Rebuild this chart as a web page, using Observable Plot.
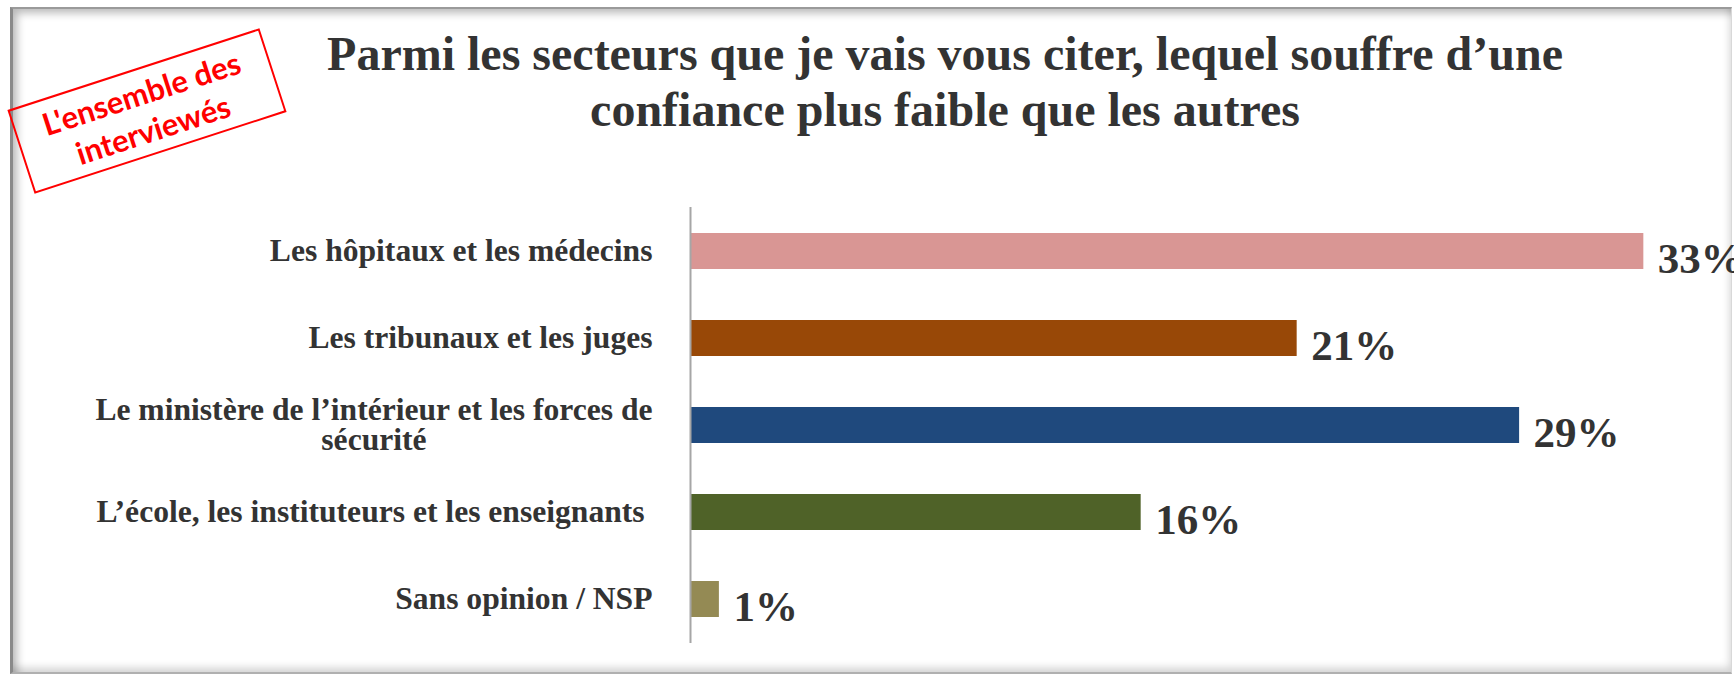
<!DOCTYPE html>
<html>
<head>
<meta charset="utf-8">
<script src="https://cdn.jsdelivr.net/npm/d3@7"></script>
<script src="https://cdn.jsdelivr.net/npm/@observablehq/plot@0.6"></script>
<style>
  html, body { margin: 0; padding: 0; background: #fff; }
  #page { position: relative; width: 1734px; height: 680px; overflow: hidden; background: #fff; }
  #frame {
    position: absolute; left: 10px; top: 7px; width: 1722px; height: 667px; box-sizing: border-box;
    border-top: 2px solid #9a9a9a; border-left: 3px solid #8a8a8a; border-bottom: 2px solid #b0b0b0; border-right: 1px solid #d8d8d8;
    box-shadow: inset 7px 7px 9px -3px rgba(0,0,0,0.28), inset -4px -7px 9px -3px rgba(0,0,0,0.18);
  }
  #title {
    position: absolute; left: 945px; top: 26px; transform: translateX(-50%);
    font-family: "Liberation Serif", "Times New Roman", serif; font-weight: bold; font-size: 48px;
    line-height: 56px; color: #333; text-align: center; white-space: nowrap;
  }
  #stamp {
    position: absolute; left: 147px; top: 111px; width: 265px; height: 88px; box-sizing: border-box;
    transform: translate(-50%, -50%) rotate(-18deg);
    border: 2px solid #ff0000; color: #ff0000;
    font-family: Lato, "Open Sans", sans-serif; font-weight: bold; font-size: 31px; line-height: 38px;
    display: flex; align-items: center; justify-content: center; text-align: center;
  }
  #chart { position: absolute; left: 0; top: 150px; }
</style>
</head>
<body>
<div id="page">
  <div id="frame"></div>
  <div id="title">Parmi les secteurs que je vais vous citer, lequel souffre d’une<br>confiance plus faible que les autres</div>
  <div id="stamp"><div>L'ensemble des<br>interviewés</div></div>
  <div id="chart"></div>
</div>
<script>
const categories = [
  "Les hôpitaux et les médecins",
  "Les tribunaux et les juges",
  "Le ministère de l’intérieur et les forces de\nsécurité",
  "L’école, les instituteurs et les enseignants\u00a0",
  "Sans opinion / NSP"
];
// bar lengths (percent)
const shares = [33, 21, 28.7, 15.6, 1];
// percentages printed next to the bars
const labels = [33, 21, 29, 16, 1];
const colors = ["#D99694", "#984807", "#1F497D", "#4F6228", "#948A54"];

const data = categories.map((c, i) => ({cat: c, value: shares[i], label: labels[i]}));

const textColor = "#333333";
const plot = Plot.plot({
  width: 1734,
  height: 530,
  marginLeft: 690,
  marginRight: 4,
  marginTop: 57,
  marginBottom: 37,
  style: {fontFamily: "'Liberation Serif', 'Times New Roman', serif", background: "transparent", color: textColor},
  x: {domain: [0, 36], axis: null},
  y: {domain: categories, axis: null, paddingInner: 0.585, paddingOuter: 0.2925},
  color: {domain: categories, range: colors},
  marks: [
    Plot.barX(data, {x: "value", y: "cat", fill: "cat"}),
    Plot.ruleX([0], {stroke: "#a6a6a6", strokeWidth: 2}),
    Plot.text(data, {x: 0, y: "cat", text: "cat", textAnchor: "end", lineAnchor: "middle", dx: -38, fontSize: 31.6, fontWeight: "bold", lineHeight: 0.93, fill: textColor}),
    Plot.text(data, {x: "value", y: "cat", text: d => d.label + "%", textAnchor: "start", dx: 14, dy: 8, fontSize: 43, fontWeight: "bold", fill: textColor})
  ]
});
document.getElementById("chart").appendChild(plot);

// Center the second line of the multi-line category label under its first line
plot.querySelectorAll("text").forEach(t => {
  const spans = t.querySelectorAll("tspan");
  if (spans.length === 2) {
    const w1 = spans[0].getComputedTextLength();
    const w2 = spans[1].getComputedTextLength();
    const base = +(spans[0].getAttribute("x") || 0);
    spans[1].setAttribute("x", base - (w1 - w2) / 2);
  }
});
</script>
</body>
</html>
